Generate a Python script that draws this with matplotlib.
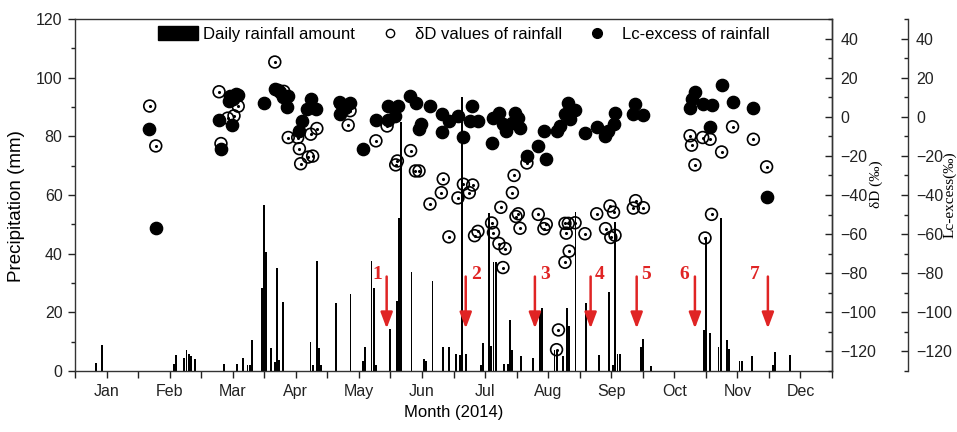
import matplotlib
matplotlib.use('Agg')
import matplotlib.pyplot as plt
from matplotlib.patches import Patch
from matplotlib.lines import Line2D
from matplotlib.ticker import MultipleLocator

plt.rcParams['font.family'] = ['Liberation Sans', 'DejaVu Sans']

# Daily rainfall amount (day of year, mm)
rain_day = [10, 13, 47, 48, 52, 53, 54, 55, 57, 71, 77, 80, 82, 83, 84, 89, 90, 91,
            93, 95, 96, 97, 99, 112, 113, 115, 116, 117, 124, 131, 137, 138, 141, 142,
            143, 150, 153, 154, 155, 160, 166, 167, 170, 175, 178, 181, 183, 184, 186,
            193, 194, 197, 198, 199, 200, 204, 206, 207, 208, 212, 218, 221, 222, 228,
            229, 232, 234, 235, 238, 243, 249, 254, 256, 257, 258, 259, 269, 270, 274,
            299, 300, 302, 306, 307, 310, 311, 316, 317, 322, 332, 333, 340]
rain_mm = [2.8, 8.9, 2.4, 5.5, 4.3, 7.0, 5.7, 5.0, 4.1, 2.3, 2.4, 4.3, 2.0, 2.0, 10.5, 28.4, 56.6, 40.7,
           7.7, 2.9, 35.2, 3.9, 23.6, 10.0, 2.0, 37.5, 7.7, 2.0, 23.1, 26.1, 3.4, 8.3, 37.6, 28.4,
           2.0, 14.2, 23.9, 52.1, 85.0, 33.6, 4.1, 3.4, 30.8, 8.3, 8.3, 5.7, 5.4, 93.5, 5.7,
           2.0, 9.4, 53.8, 8.4, 37.3, 37.0, 2.5, 2.5, 17.4, 7.2, 5.2, 4.4, 20.2, 21.5, 7.0,
           7.0, 5.2, 21.6, 15.2, 54.2, 23.1, 5.4, 26.9, 2.1, 50.9, 5.8, 5.8, 8.3, 11.0, 1.8,
           14.0, 45.8, 12.8, 8.3, 52.3, 10.5, 7.5, 3.5, 3.5, 5.1, 2.0, 6.5, 5.5]

# dD values of rainfall (day of year, permil)
dD_day = [35.5, 38.4, 68.5, 69.4, 72.6, 75.6, 77.6, 95.0, 99.3, 101.4, 105.9, 106.7, 107.3,
          110.9, 112.1, 113.0, 115.0, 126.0, 129.9, 130.8, 143.1, 148.4, 152.5, 153.3,
          159.6, 161.9, 163.6, 168.8, 174.2, 175.1, 177.8, 182.1, 184.7, 187.5, 189.1,
          190.0, 191.6, 198.1, 199.0, 201.6, 202.5, 203.5, 204.5, 208.0, 208.8, 209.7,
          210.8, 211.6, 214.9, 220.3, 223.0, 224.1, 229.0, 229.9, 233.0, 233.6, 233.0,
          235.0, 234.6, 237.8, 242.5, 248.1, 252.3, 254.4, 254.8, 256.1, 256.8, 265.5,
          266.6, 270.3, 292.5, 293.2, 294.8, 298.5, 299.6, 302.0, 302.7, 307.5, 312.7,
          322.6, 328.9]
dD_val = [5.5, -14.9, 12.8, -13.7, -0.7, 0.5, 5.4, 28.0, 13.0, -10.6, -10.6, -16.3, -24.0,
          -20.6, -8.9, -20.1, -6.0, 7.3, -4.3, 3.1, -12.3, -4.7, -24.6, -22.6,
          -17.3, -27.7, -27.7, -44.6, -38.8, -31.8, -61.4, -41.5, -34.5, -38.8, -34.9,
          -60.8, -58.6, -54.3, -59.2, -64.8, -46.3, -77.1, -67.4, -38.8, -30.0, -51.0,
          -49.6, -57.0, -23.6, -49.9, -57.2, -55.0, -119.1, -109.0, -54.5, -59.5, -74.4,
          -68.7, -54.5, -54.2, -59.8, -49.6, -57.2, -45.6, -61.7, -48.8, -60.6, -46.7,
          -42.9, -46.5, -9.7, -14.5, -24.6, -10.6, -62.0, -11.5, -49.9, -18.0, -5.1,
          -11.5, -25.6]

# Lc-excess of rainfall (day of year, permil)
lc_day = [35.3, 38.4, 68.5, 69.4, 73.0, 73.5, 74.8, 75.3, 76.5, 77.7, 89.9, 94.9, 96.5, 97.6,
          99.0, 101.4, 100.6, 106.3, 107.8, 110.2, 112.1, 114.6, 126.1, 126.0, 128.4, 130.8,
          136.8, 143.1, 149.0, 149.0, 152.2, 153.4, 159.3, 162.3, 163.8, 164.4, 168.8,
          174.4, 174.4, 177.9, 182.3, 184.7, 187.8, 188.6, 191.8, 198.2, 198.9, 201.8,
          203.7, 205.0, 207.7, 209.2, 210.8, 211.6, 214.8, 220.3, 223.0, 223.8, 229.0,
          230.6, 233.0, 234.6, 235.4, 237.8, 242.5, 248.1, 252.0, 253.6, 256.1, 256.8,
          265.5, 266.3, 270.3, 292.5, 293.2, 294.8, 298.8, 301.9, 302.7, 307.5, 312.7,
          322.6, 328.9]
lc_val = [-6.0, -57.1, -1.5, -16.5, 8.0, 10.8, -4.3, 9.1, 11.5, 11.1, 6.8, 14.2, 13.5, 12.5,
          10.0, 10.8, 5.2, -7.2, -2.1, 3.9, 9.1, 3.9, 7.3, 1.3, 4.7, 7.3,
          -16.5, -1.5, 5.6, -1.8, 0.5, 5.6, 10.8, 7.3, -6.3, -3.8, 5.3,
          1.3, -7.6, -2.2, 0.3, -10.3, -2.2, 5.6, -2.2, -13.3, -0.6, 2.0,
          -3.8, -7.2, -3.1, 2.0, -0.6, -5.6, -20.1, -15.0, -7.2, -21.5, -7.2,
          -4.6, 1.3, 7.3, -1.3, 3.3, -8.1, -5.3, -9.9, -7.2, -3.8, 2.0,
          1.3, 6.3, 0.9, 4.7, 8.9, 12.9, 6.3, -5.3, 5.9, 16.2, 7.7,
          4.7, -40.9]

months = ['Jan', 'Feb', 'Mar', 'Apr', 'May', 'Jun', 'Jul', 'Aug', 'Sep', 'Oct', 'Nov', 'Dec']

# red arrows 1-7
arrow_day = [148.2, 185.8, 218.7, 245.2, 267.1, 294.8, 329.5]
arrow_num_day = [143.6, 190.7, 223.5, 249.6, 271.8, 289.6, 323.3]
arrow_num = ['1', '2', '3', '4', '5', '6', '7']

axis_col = '#333333'
red = '#e02424'

fig = plt.figure(figsize=(9.57, 4.32), dpi=100)
ax = fig.add_axes([0.0784, 0.1412, 0.791, 0.8148])

ax.bar(rain_day, rain_mm, width=0.9, color='black', zorder=2)
ax.set_xlim(0, 360)
ax.set_ylim(0, 120)
ax.set_yticks(range(0, 121, 20))
ax.yaxis.set_minor_locator(MultipleLocator(10))
ax.set_xticks(range(0, 361, 15))
ax.set_xticklabels(['' if i % 2 == 0 else months[i // 2] for i in range(25)])
ax.tick_params(axis='both', which='major', direction='out', length=5, width=1,
               labelsize=11.5, colors='#222222', pad=4)
ax.tick_params(axis='y', which='minor', direction='out', length=3, width=1, colors='#222222')
for s in ax.spines.values():
    s.set_linewidth(1.0)
    s.set_color(axis_col)
ax.text(-0.077, 0.47, 'Precipitation (mm)', transform=ax.transAxes, rotation=90,
        ha='center', va='center', fontsize=13.5)
ax.text(0.5, -0.117, 'Month (2014)', transform=ax.transAxes, ha='center', va='center',
        fontsize=12)

# arrows
for d, nd, n in zip(arrow_day, arrow_num_day, arrow_num):
    ax.annotate('', xy=(d, 14.5), xytext=(d, 32.2),
                arrowprops=dict(arrowstyle='-|>,head_width=0.3,head_length=0.8',
                                color=red, lw=1.8, mutation_scale=12, shrinkA=0, shrinkB=0),
                zorder=5)
    ax.text(nd, 32.8, n, color=red, fontsize=14, fontweight='bold',
            family='Liberation Serif', ha='center', va='center', zorder=5)

# dD axis
ax2 = ax.twinx()
ax2.set_ylim(-130, 50)
ax2.set_yticks(range(-120, 41, 20))
ax2.yaxis.set_minor_locator(MultipleLocator(10))
ax2.tick_params(axis='y', which='major', direction='in', length=5, width=1,
                labelsize=11.5, colors='#222222', pad=6)
ax2.tick_params(axis='y', which='minor', direction='in', length=3, width=1, colors='#222222')
for k in ['left', 'top', 'bottom']:
    ax2.spines[k].set_visible(False)
ax2.spines['right'].set_linewidth(1.0)
ax2.spines['right'].set_color(axis_col)
ax2.text(1.059, 0.53, 'δD (‰)', transform=ax2.transAxes, rotation=90, ha='center',
         va='center', fontsize=11, family=['Liberation Serif', 'DejaVu Serif'])
ax2.scatter(dD_day, dD_val, s=72, facecolors='none', edgecolors='black', linewidths=1.2, zorder=3)
ax2.scatter(dD_day, dD_val, s=1.5, color='black', zorder=3)

# Lc-excess axis
ax3 = ax.twinx()
ax3.set_ylim(-130, 50)
ax3.spines['right'].set_position(('axes', 1.1))
for k in ['left', 'top', 'bottom']:
    ax3.spines[k].set_visible(False)
ax3.spines['right'].set_linewidth(1.0)
ax3.spines['right'].set_color(axis_col)
ax3.set_yticks(range(-120, 41, 20))
ax3.yaxis.set_minor_locator(MultipleLocator(10))
ax3.tick_params(axis='y', which='major', direction='in', length=5, width=1,
                labelsize=11.5, colors='#222222', pad=6)
ax3.tick_params(axis='y', which='minor', direction='in', length=3, width=1, colors='#222222')
ax3.text(1.155, 0.5, 'Lc-excess(‰)', transform=ax3.transAxes, rotation=90, ha='center',
         va='center', fontsize=11, family=['Liberation Serif', 'DejaVu Serif'])
ax3.scatter(lc_day, lc_val, s=78, color='black', zorder=4)

handles = [Patch(facecolor='black', edgecolor='black'),
           Line2D([], [], marker='o', ls='none', markersize=6, markerfacecolor='none',
                  markeredgecolor='black', markeredgewidth=1.0),
           Line2D([], [], marker='o', ls='none', markersize=7, color='black')]
labels = ['Daily rainfall amount', 'δD values of rainfall', 'Lc-excess of rainfall']
ax3.legend(handles, labels, loc='center', bbox_to_anchor=(0.514, 0.957), ncol=3,
           frameon=False, fontsize=12, handlelength=2.4, handleheight=0.9,
           handletextpad=0.3, columnspacing=0.9, borderpad=0)

fig.savefig('out.png', dpi=100)
